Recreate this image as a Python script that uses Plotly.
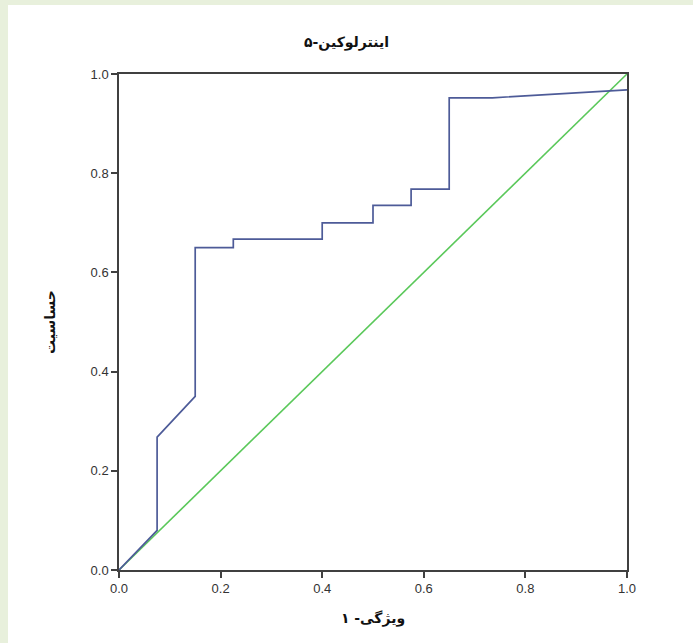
import plotly.graph_objects as go

# ROC curve (1 - specificity, sensitivity)
roc_fpr = [0.0, 0.075, 0.075, 0.15, 0.15, 0.225, 0.225, 0.4, 0.4, 0.5, 0.5, 0.575, 0.575, 0.65, 0.65, 0.735, 1.0]
roc_tpr = [0.0, 0.08, 0.268, 0.35, 0.65, 0.65, 0.667, 0.667, 0.70, 0.70, 0.735, 0.735, 0.768, 0.768, 0.952, 0.952, 0.968]
ref_x = [0.0, 1.0]
ref_y = [0.0, 1.0]
tick_vals = [0.0, 0.2, 0.4, 0.6, 0.8, 1.0]
tick_text = ["0.0", "0.2", "0.4", "0.6", "0.8", "1.0"]

title_text = "اینترلوکین-۵"
x_label = "ویژگی- ۱"
y_label = "حساسیت"

fig = go.Figure()
fig.add_trace(go.Scatter(x=ref_x, y=ref_y, mode="lines",
                         line=dict(color="#5ac85a", width=1.6), showlegend=False))
fig.add_trace(go.Scatter(x=roc_fpr, y=roc_tpr, mode="lines",
                         line=dict(color="#4d5b98", width=1.7), showlegend=False))

# white panel over greenish page background
fig.add_shape(type="rect", xref="paper", yref="paper",
              x0=-0.2185, x1=1.2, y0=-0.2, y1=1.139,
              fillcolor="white", line=dict(width=0), layer="below")

axis_common = dict(range=[0, 1], tickvals=tick_vals, ticktext=tick_text,
                   showgrid=False, zeroline=False, showline=True, mirror=True,
                   linecolor="#404040", linewidth=1.5, ticks="outside", ticklen=6,
                   tickcolor="#404040", tickwidth=1.5,
                   tickfont=dict(family="Liberation Sans, Arial", size=13, color="#333333"))

fig.update_layout(
    width=693, height=643,
    margin=dict(l=119, r=66, t=74, b=73),
    paper_bgcolor="#e8f0dc",
    plot_bgcolor="#f0f0f0",
    xaxis=axis_common,
    yaxis=axis_common,
    title=dict(text="<b>" + title_text + "</b>", x=0.5, xanchor="center", y=1 - 42 / 643, yanchor="middle",
               font=dict(family="DejaVu Sans", size=14, color="#111111")),
    showlegend=False,
)
fig.update_xaxes(title=dict(text="<b>" + x_label + "</b>", standoff=18,
                            font=dict(family="DejaVu Sans", size=14, color="#111111")))
fig.update_yaxes(title=dict(text="<b>" + y_label + "</b>", standoff=32,
                            font=dict(family="DejaVu Sans", size=14, color="#111111")))

fig.write_html("out.html", config={"displayModeBar": False},
               post_script="document.body.style.margin='0';")
